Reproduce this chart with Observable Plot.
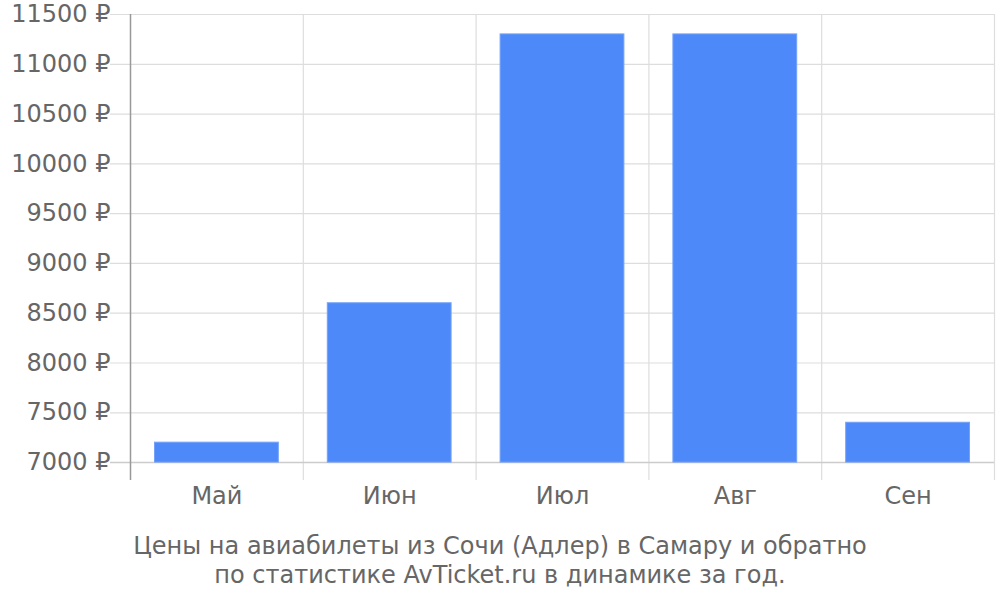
<!DOCTYPE html>
<html><head><meta charset="utf-8">
<script src="https://cdn.jsdelivr.net/npm/d3@7"></script>
<script src="https://cdn.jsdelivr.net/npm/@observablehq/plot@0.6"></script>
<style>
body{margin:0;background:#fff;font-family:"DejaVu Sans",sans-serif;}
#cap{width:1000px;text-align:center;color:#666;font-size:24px;font-family:"DejaVu Sans",sans-serif;line-height:29px;margin-top:2px;}
</style></head>
<body><div id="chart"></div>
<div id="cap">Цены на авиабилеты из Сочи (Адлер) в Самару и обратно<br>по статистике AvTicket.ru в динамике за год.</div>
<script>
const months = ["Май","Июн","Июл","Авг","Сен"];
const prices = [7200, 8600, 11300, 11300, 7400];
const yTicks = [7000,7500,8000,8500,9000,9500,10000,10500,11000,11500];
const baseline = 7000;

const data = months.map((m,i)=>({m, i, v: prices[i]}));
const bounds = d3.range(months.length+1);

const chart = Plot.plot({
  width:1000, height:530,
  marginLeft:130, marginRight:6, marginTop:14, marginBottom:50,
  style:{fontFamily:"DejaVu Sans", fontSize:"24px", color:"#666", background:"#fff"},
  x:{domain:[0,months.length], axis:null},
  y:{domain:[6820,11500], axis:null},
  marks:[
    Plot.ruleY(yTicks.filter(t=>t!==baseline), {x1:-0.116, x2:months.length, stroke:"#ddd", strokeWidth:1.2, clip:false}),
    Plot.ruleX(bounds.slice(1), {stroke:"#ddd", strokeWidth:1.2}),
    Plot.ruleY([baseline], {x1:-0.116, x2:months.length, stroke:"#ccc", strokeWidth:1.5}),
    Plot.rectY(data, {x1:d=>d.i, x2:d=>d.i+1, y1:baseline, y2:"v", fill:"#4d89f9", stroke:"#74a2f8", strokeWidth:1, insetLeft:24.5, insetRight:24.5}),
    Plot.ruleX([0], {stroke:"#999", strokeWidth:1.5}),
    Plot.text(yTicks, {x:0, y:d=>d, text:d=>d+" ₽", textAnchor:"end", dx:-20, fill:"#666", fontSize:24}),
    Plot.text(data, {x:d=>d.i+0.5, y:6820, text:"m", dy:16, lineAnchor:"middle", fill:"#666", fontSize:24})
  ]
});
document.getElementById("chart").appendChild(chart);
</script></body></html>
